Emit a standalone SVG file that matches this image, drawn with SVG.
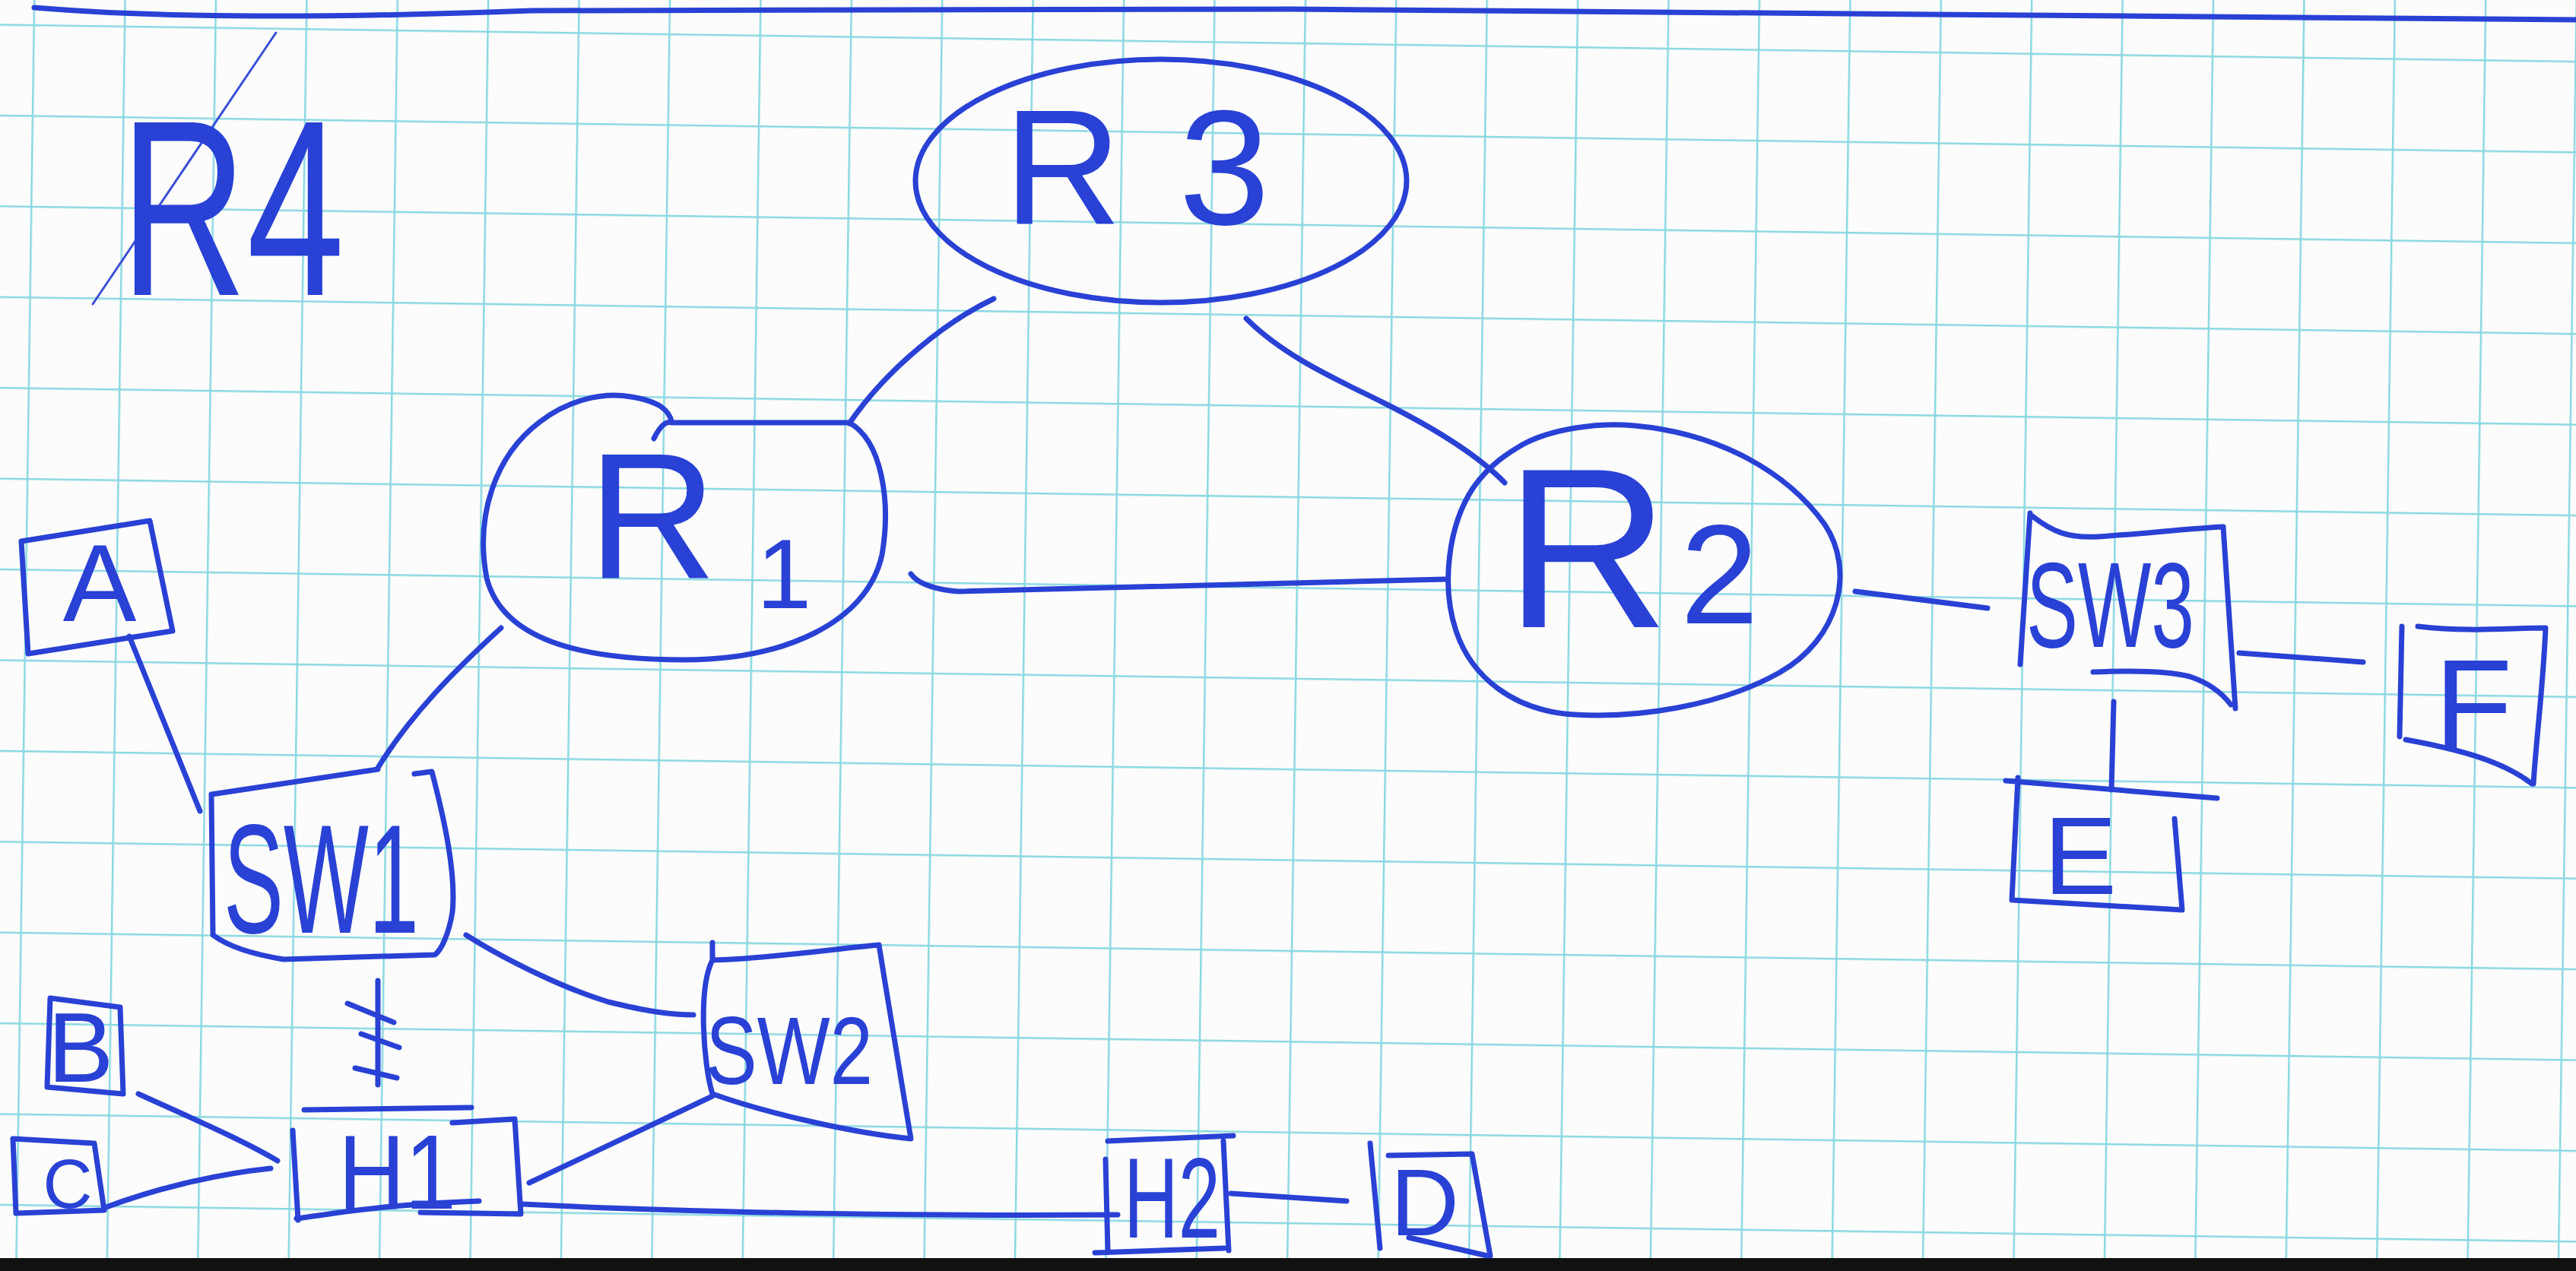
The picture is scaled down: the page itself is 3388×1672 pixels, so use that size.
<svg xmlns="http://www.w3.org/2000/svg" width="3388" height="1672" viewBox="0 0 3388 1672">
<style>
.pen{fill:none;stroke:#2941d4;stroke-width:7;stroke-linecap:round;stroke-linejoin:round}
.thin{fill:none;stroke:#3a4fd6;stroke-width:3;stroke-linecap:round}
.lbl{font-family:"Liberation Sans","DejaVu Sans",sans-serif;fill:#2941d4}
</style>
<defs>
<pattern id="grid" patternUnits="userSpaceOnUse" x="43.9" y="31.3" width="119.4" height="119.4" patternTransform="rotate(0.82)">
<path d="M0,0 L119.4,0 M0,0 L0,119.4" stroke="#8ad8e2" stroke-width="5" fill="none"/>
</pattern>
</defs>
<g id="paper">
<rect x="0" y="0" width="3388" height="1672" fill="#fcfcfc"/>
<rect x="0" y="0" width="3388" height="1672" fill="url(#grid)"/>
<rect x="0" y="1655" width="3388" height="17" fill="#111"/>
<path class="pen" d="M45,10 Q280,30 700,14 L1700,12 L3388,26"/>
</g>
<g id="title">
<path class="thin" d="M122,400 L363,43"/>
<text class="lbl" x="158" y="388" font-size="330" textLength="295" lengthAdjust="spacingAndGlyphs">R4</text>
</g>
<g id="connectors">
<path class="pen" d="M1307,393 C1250,420 1170,480 1117,557"/>
<path class="pen" d="M1639,419 C1690,470 1760,500 1820,530 C1880,560 1940,595 1979,635"/>
<path class="pen" d="M1198,755 Q1212,774 1260,778 C1400,775 1600,768 1900,762"/>
<path class="pen" d="M2440,778 L2614,800"/>
<path class="pen" d="M2945,859 L3108,871"/>
<path class="pen" d="M2780,923 L2777,1039"/>
<path class="pen" d="M497,1010 C540,940 600,880 659,826"/>
<path class="pen" d="M170,837 L263,1067"/>
<path class="pen" d="M613,1230 C660,1260 740,1300 800,1318 C850,1330 880,1335 912,1335"/>
<path class="pen" d="M497,1290 L497,1427 M457,1320 L518,1345 M475,1360 L525,1378 M467,1405 L522,1418"/>
<path class="pen" d="M937,1442 L696,1556"/>
<path class="pen" d="M182,1439 C250,1470 320,1500 365,1527"/>
<path class="pen" d="M137,1589 C200,1565 280,1545 356,1537"/>
<path class="pen" d="M687,1584 C900,1595 1200,1600 1470,1598"/>
<path class="pen" d="M1619,1570 L1771,1580"/>
</g>
<g id="R3">
<ellipse class="pen" cx="1527" cy="238" rx="323" ry="160"/>
<text class="lbl" x="1320" y="295" font-size="215" textLength="350" lengthAdjust="spacing">R3</text>
</g>
<g id="R1">
<path class="pen" d="M860,577 Q872,552 884,556 L1117,556 C1160,580 1172,660 1160,730 C1140,820 1030,868 900,868 C760,868 660,840 640,760 C625,680 650,600 710,555 C745,528 790,515 830,522 C868,528 880,540 884,556"/>
<text class="lbl" font-size="235"><tspan x="773" y="760">R</tspan><tspan x="995" y="800" font-size="130">1</tspan></text>
</g>
<g id="R2">
<path class="pen" d="M2004,584 C2040,565 2100,555 2150,560 C2260,570 2350,620 2400,690 C2440,750 2420,840 2340,885 C2260,930 2150,945 2070,940 C1990,935 1935,890 1915,830 C1895,770 1905,690 1938,641 C1960,610 1985,595 2004,584 Z"/>
<text class="lbl" font-size="300"><tspan x="1979" y="825">R</tspan><tspan x="2210" y="820" font-size="185">2</tspan></text>
</g>
<g id="SW3">
<path class="pen" d="M2670,675 L2657,874 M2673,679 C2700,700 2720,708 2760,706 C2820,702 2880,695 2924,693 C2930,780 2935,860 2940,932 M2753,884 C2800,882 2850,882 2880,890 C2910,900 2925,915 2934,927"/>
<text class="lbl" x="2665" y="851" font-size="160" textLength="221" lengthAdjust="spacingAndGlyphs">SW3</text>
</g>
<g id="F">
<path class="pen" d="M3159,824 L3156,969 M3180,824 C3250,832 3300,826 3348,826 C3345,900 3335,980 3332,1031 M3164,973 C3230,985 3290,1000 3330,1031"/>
<text class="lbl" x="3253" y="985" font-size="168" text-anchor="middle">F</text>
</g>
<g id="E">
<path class="pen" d="M2638,1027 L2916,1050 M2654,1023 L2646,1184 L2870,1197 L2860,1077"/>
<text class="lbl" x="2736" y="1176" font-size="144" text-anchor="middle">E</text>
</g>
<g id="A">
<path class="pen" d="M28,712 L197,685 L227,830 L37,860 Z"/>
<text class="lbl" x="131" y="817" font-size="145" text-anchor="middle">A</text>
</g>
<g id="SW1">
<path class="pen" d="M278,1045 L497,1012 M545,1018 L568,1015 C585,1080 600,1150 595,1200 C590,1230 580,1250 572,1256 L373,1262 C330,1255 300,1245 280,1230 L278,1045"/>
<text class="lbl" x="294" y="1227" font-size="205" textLength="257" lengthAdjust="spacingAndGlyphs">SW1</text>
</g>
<g id="SW2">
<path class="pen" d="M937,1240 L937,1263 C1000,1262 1100,1248 1156,1243 C1170,1330 1185,1420 1198,1498 C1120,1490 1010,1465 937,1439 C925,1400 918,1300 937,1263"/>
<text class="lbl" x="928" y="1426" font-size="127" textLength="220" lengthAdjust="spacingAndGlyphs">SW2</text>
</g>
<g id="B">
<path class="pen" d="M66,1313 L158,1325 L162,1439 L62,1430 Z"/>
<text class="lbl" x="106" y="1423" font-size="130" text-anchor="middle">B</text>
</g>
<g id="C">
<path class="pen" d="M17,1498 L124,1504 L137,1592 L21,1596 Z"/>
<text class="lbl" x="89" y="1589" font-size="90" text-anchor="middle">C</text>
</g>
<g id="H1">
<path class="pen" d="M400,1460 L620,1457 M385,1487 L392,1605 M390,1603 C450,1595 500,1585 630,1580 M553,1595 L685,1597 L677,1472 L595,1477"/>
<text class="lbl" x="445" y="1590" font-size="140" textLength="155" lengthAdjust="spacingAndGlyphs">H1</text>
</g>
<g id="H2">
<path class="pen" d="M1457,1501 L1622,1494 M1454,1525 L1457,1645 M1609,1501 L1616,1645 M1440,1648 L1610,1642"/>
<text class="lbl" x="1478" y="1628" font-size="150" textLength="127" lengthAdjust="spacingAndGlyphs">H2</text>
</g>
<g id="D">
<path class="pen" d="M1802,1504 L1815,1642 M1826,1520 L1936,1518 L1960,1652 M1853,1628 L1956,1652"/>
<text class="lbl" x="1874" y="1625" font-size="125" text-anchor="middle">D</text>
</g>
</svg>
